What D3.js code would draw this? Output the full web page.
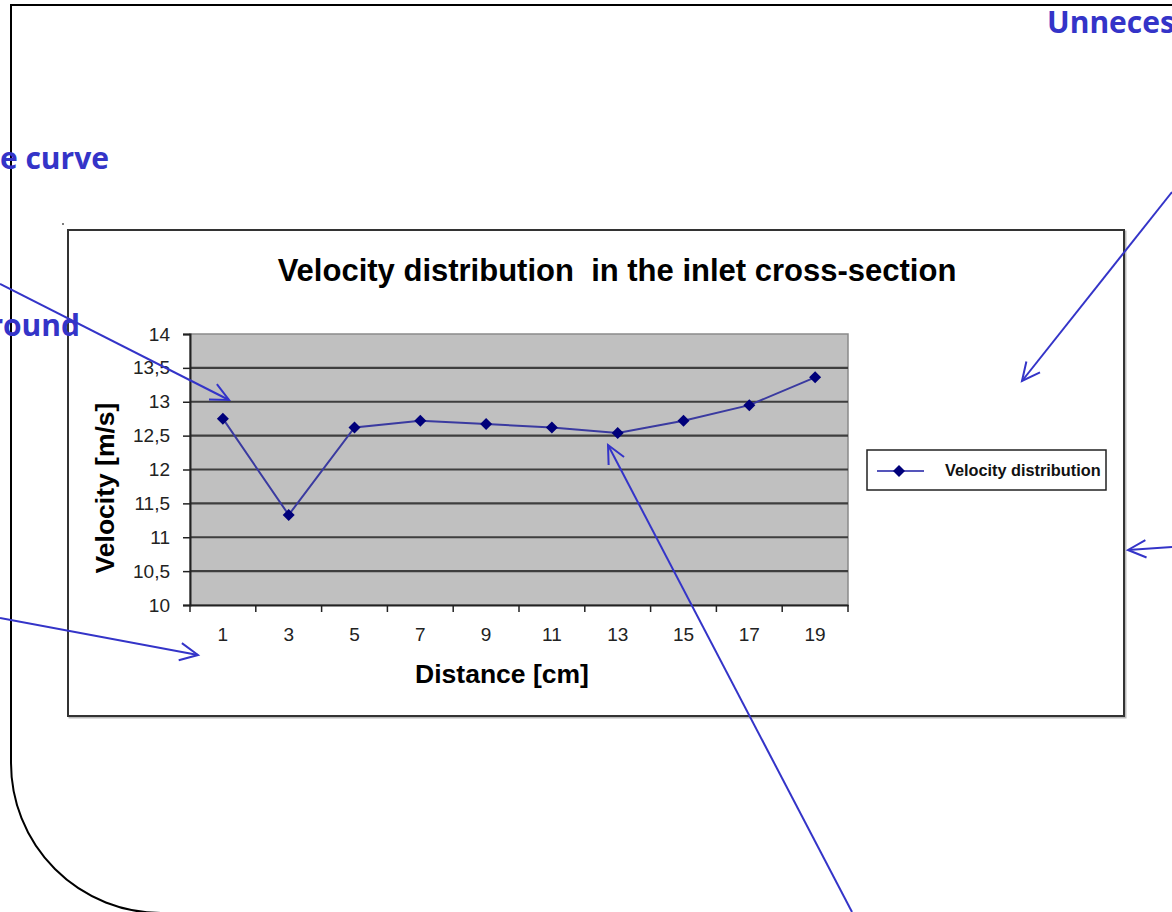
<!DOCTYPE html>
<html>
<head>
<meta charset="utf-8">
<script src="https://cdn.jsdelivr.net/npm/d3@7"></script>
<style>
  html, body { margin: 0; padding: 0; background: #fff; }
  svg { display: block; }
</style>
</head>
<body>
<svg id="chart" width="1172" height="912"></svg>
<script>
// Measured velocity along the inlet cross-section
const distances = [1, 3, 5, 7, 9, 11, 13, 15, 17, 19];
const velocities = [12.75, 11.33, 12.62, 12.72, 12.67, 12.62, 12.54, 12.72, 12.95, 13.36];
const velocityTicks = [10, 10.5, 11, 11.5, 12, 12.5, 13, 13.5, 14];
const seriesName = "Velocity distribution";
const chartTitle = "Velocity distribution\u00a0 in the inlet cross-section";
const xTitle = "Distance [cm]";
const yTitle = "Velocity [m/s]";

const svg = d3.select("#chart");
const noteBlue = "#3434c8";
const chartFont = "Liberation Sans, Arial, sans-serif";

// Slide frame with a rounded lower-left corner
svg.append("path")
  .attr("d", "M1172,5 H11 V763 A150,150 0 0 0 161,913")
  .attr("fill", "none").attr("stroke", "#000").attr("stroke-width", 2);

// Chart area box
const box = { x: 68, y: 230, w: 1056, h: 486 };
svg.append("rect")
  .attr("x", box.x + 1.5).attr("y", box.y + 1.5).attr("width", box.w).attr("height", box.h)
  .attr("fill", "none").attr("stroke", "#bbb").attr("stroke-width", 2);
svg.append("rect")
  .attr("x", box.x).attr("y", box.y).attr("width", box.w).attr("height", box.h)
  .attr("fill", "#fff").attr("stroke", "#333").attr("stroke-width", 2);
svg.append("circle").attr("cx", 63).attr("cy", 224).attr("r", 1).attr("fill", "#555");

// Plot area and scales
const plot = { left: 190, right: 848, top: 334, bottom: 605 };
const x = d3.scaleBand().domain(distances).range([plot.left, plot.right]);
const y = d3.scaleLinear().domain([10, 14]).range([plot.bottom, plot.top]);

svg.append("rect")
  .attr("x", plot.left).attr("y", plot.top)
  .attr("width", plot.right - plot.left).attr("height", plot.bottom - plot.top)
  .attr("fill", "#c0c0c0").attr("stroke", "#8a8a8a").attr("stroke-width", 1.5);

// Horizontal gridlines
svg.append("g").selectAll("line")
  .data(velocityTicks.filter(v => v > 10 && v < 14))
  .join("line")
  .attr("x1", plot.left).attr("x2", plot.right)
  .attr("y1", d => y(d)).attr("y2", d => y(d))
  .attr("stroke", "#3e3e3e").attr("stroke-width", 2.2);

const fmt = d => String(d).replace(".", ",");

// Y axis
const yAxis = svg.append("g")
  .attr("transform", `translate(${plot.left},0)`)
  .call(d3.axisLeft(y).tickValues(velocityTicks).tickFormat(fmt).tickSize(7).tickPadding(13));
yAxis.select(".domain").attr("stroke", "#222").attr("stroke-width", 2);
yAxis.selectAll(".tick line").attr("stroke", "#222").attr("stroke-width", 1.5);
yAxis.selectAll(".tick text")
  .attr("font-family", chartFont)
  .attr("font-size", 19).attr("fill", "#222");

// X axis: labels centred in categories, ticks on category boundaries
const xAxis = svg.append("g")
  .attr("transform", `translate(0,${plot.bottom})`)
  .call(d3.axisBottom(x).tickSize(0).tickPadding(23));
xAxis.select(".domain").attr("stroke", "#222").attr("stroke-width", 2);
xAxis.selectAll(".tick text")
  .attr("font-family", chartFont)
  .attr("font-size", 19).attr("fill", "#222");
const boundaries = distances.map(d => x(d)).concat([x.range()[1]]);
xAxis.append("g").selectAll("line")
  .data(boundaries)
  .join("line")
  .attr("x1", d => d).attr("x2", d => d)
  .attr("y1", 0).attr("y2", 7)
  .attr("stroke", "#222").attr("stroke-width", 1.5);

// Series line and diamond markers
const cx = d => x(d) + x.bandwidth() / 2;
const line = d3.line().x((d, i) => cx(distances[i])).y(d => y(d));
svg.append("path")
  .datum(velocities)
  .attr("d", line)
  .attr("fill", "none").attr("stroke", "#3a3aa0").attr("stroke-width", 2);
const diamond = d3.symbol().type(d3.symbolSquare).size(72);
svg.append("g").selectAll("path")
  .data(velocities)
  .join("path")
  .attr("d", diamond)
  .attr("transform", (d, i) => `translate(${cx(distances[i])},${y(d)}) rotate(45)`)
  .attr("fill", "#00007a");

// Titles
svg.append("text")
  .attr("x", 617).attr("y", 281).attr("text-anchor", "middle")
  .attr("font-family", chartFont)
  .attr("font-weight", "bold").attr("font-size", 31).attr("fill", "#000")
  .text(chartTitle);
svg.append("text")
  .attr("x", 502).attr("y", 683).attr("text-anchor", "middle")
  .attr("font-family", chartFont)
  .attr("font-weight", "bold").attr("font-size", 26.5).attr("fill", "#000")
  .text(xTitle);
svg.append("text")
  .attr("transform", `translate(114,488) rotate(-90)`)
  .attr("text-anchor", "middle")
  .attr("font-family", chartFont)
  .attr("font-weight", "bold").attr("font-size", 26.5).attr("fill", "#000")
  .text(yTitle);

// Legend
const lg = { x: 867, y: 450, w: 239, h: 40 };
svg.append("rect")
  .attr("x", lg.x).attr("y", lg.y).attr("width", lg.w).attr("height", lg.h)
  .attr("fill", "#fff").attr("stroke", "#222").attr("stroke-width", 1.5);
svg.append("line")
  .attr("x1", lg.x + 10).attr("x2", lg.x + 57)
  .attr("y1", lg.y + 21).attr("y2", lg.y + 21)
  .attr("stroke", "#5555bb").attr("stroke-width", 2);
svg.append("path")
  .attr("d", diamond)
  .attr("transform", `translate(${lg.x + 32},${lg.y + 21}) rotate(45)`)
  .attr("fill", "#00007a");
svg.append("text")
  .attr("x", lg.x + 78).attr("y", lg.y + 26)
  .attr("font-family", chartFont)
  .attr("font-weight", "bold").attr("font-size", 16.3).attr("fill", "#111")
  .text(seriesName);

// Annotation notes and arrows
const noteFont = "'Open Sans', Lato, sans-serif";
const notes = [
  { text: "Unneces", x: 1047, y: 33, anchor: "start" },
  { text: "e curve", x: 109, y: 169, anchor: "end" },
  { text: "round", x: 80, y: 336, anchor: "end" }
];
svg.append("g").selectAll("text")
  .data(notes)
  .join("text")
  .attr("x", d => d.x).attr("y", d => d.y).attr("text-anchor", d => d.anchor)
  .attr("font-family", noteFont).attr("font-weight", "bold").attr("font-size", 30)
  .attr("fill", noteBlue)
  .text(d => d.text);

const arrows = [
  { from: [0, 284], to: [229, 400] },
  { from: [0, 618], to: [198, 655] },
  { from: [1172, 192], to: [1022, 381] },
  { from: [1172, 547], to: [1128, 550] },
  { from: [852, 912], to: [608, 445] }
];
const arrowG = svg.append("g")
  .attr("stroke", noteBlue).attr("stroke-width", 2).attr("fill", "none");
arrows.forEach(a => {
  const [x0, y0] = a.from, [x1, y1] = a.to;
  const ang = Math.atan2(y0 - y1, x0 - x1);
  const len = 20, spread = 0.45;
  const p1 = [x1 + len * Math.cos(ang + spread), y1 + len * Math.sin(ang + spread)];
  const p2 = [x1 + len * Math.cos(ang - spread), y1 + len * Math.sin(ang - spread)];
  arrowG.append("line").attr("x1", x0).attr("y1", y0).attr("x2", x1).attr("y2", y1);
  arrowG.append("path").attr("d", `M${p1[0]},${p1[1]} L${x1},${y1} L${p2[0]},${p2[1]}`);
});
</script>
</body>
</html>
